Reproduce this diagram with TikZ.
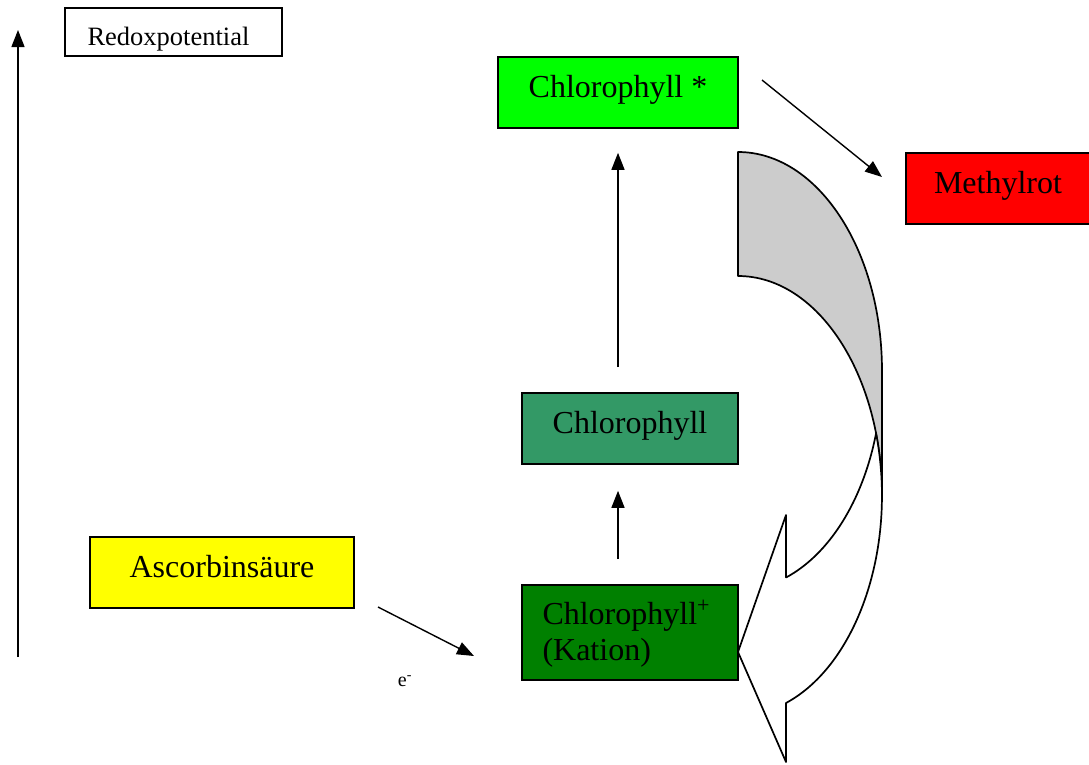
\documentclass[tikz,border=0pt]{standalone}
\usepackage{fontspec}
\setmainfont{Liberation Serif}
\usepackage{xcolor}
\usetikzlibrary{arrows.meta}
\definecolor{hellgruen}{HTML}{00FF00}
\definecolor{rot}{HTML}{FF0000}
\definecolor{seegruen}{HTML}{339966}
\definecolor{gelb}{HTML}{FFFF00}
\definecolor{dunkelgruen}{HTML}{008000}
\definecolor{grau}{HTML}{CCCCCC}

\begin{document}
\begin{tikzpicture}[x=1pt,y=-1pt]
\tikzset{stoff/.style={draw, line width=1.6pt, minimum height=71pt, inner sep=0pt,
    font=\fontsize{32}{36}\selectfont, text height=22pt, text depth=12pt},
  pfeil/.style={line width=1.4pt, -{Triangle[length=17pt,width=13pt]}}}
\useasboundingbox (0,0) rectangle (1089,764);

% Stoffe
\node[draw, line width=1.6pt, minimum width=217pt, minimum height=48pt, inner sep=0pt,
  font=\fontsize{26.5}{30}\selectfont, text height=26pt, text depth=0pt,
  text width=172pt, align=left] (redox) at (173.5,32) {Redoxpotential};
\node[stoff, fill=hellgruen, minimum width=240pt] (chlstern) at (618,92.5) {Chlorophyll *};
\node[stoff, fill=rot, minimum width=184pt] (methylrot) at (998,188.5) {Methylrot};
\node[stoff, fill=seegruen, minimum width=216pt] (chl) at (630,428.5) {Chlorophyll};
\node[stoff, fill=gelb, minimum width=264pt] (ascorbin) at (222,572.5) {Ascorbinsäure};
\node[draw, line width=1.6pt, fill=dunkelgruen, minimum width=216pt, minimum height=95pt, inner sep=0pt,
  font=\fontsize{32}{36}\selectfont, text width=175pt, align=left] (kation) at (630,632.5)
  {\rule{0pt}{26pt}Chlorophyll\raisebox{12pt}{\fontsize{22}{24}\selectfont +}\\(Kation)};
\node[font=\fontsize{20}{24}\selectfont] (elektron) at (405,681) {e\textsuperscript{-}};

% Achse
\coordinate (achseunten) at (18,657);
\coordinate (achseoben) at (18,30);
\draw[pfeil] (achseunten) -- (achseoben);

% Pfeile
\draw[pfeil, shorten <=25pt, shorten >=26pt] ([xshift=-12pt]kation.north) -- ([xshift=-12pt]chl.south);
\draw[pfeil, shorten <=25pt, shorten >=24pt] ([xshift=-12pt]chl.north) -- (chlstern.south);
\coordinate (m1) at (762,80);
\coordinate (m2) at (882,177);
\draw[pfeil] (m1) -- (m2);
\coordinate (e1) at (378,607);
\coordinate (e2) at (474,656);
\draw[pfeil] (e1) -- (e2);

% gebogener Pfeil
\coordinate (spitze) at (738,652);
\filldraw[fill=grau, line width=1.7pt, line join=round]
  (738,152) arc[start angle=-90, end angle=0, x radius=144, y radius=219]
  -- (882,496) arc[start angle=0, end angle=-90, x radius=144, y radius=220] -- cycle;
\filldraw[fill=white, line width=1.7pt, line join=round]
  (876,433.6) arc[start angle=16.6, end angle=70.5, x radius=144, y radius=219]
  -- (786,515) -- (spitze) -- (786,762) -- (786,703)
  arc[start angle=70.5, end angle=-16.6, x radius=144, y radius=220] -- cycle;
\end{tikzpicture}
\end{document}
